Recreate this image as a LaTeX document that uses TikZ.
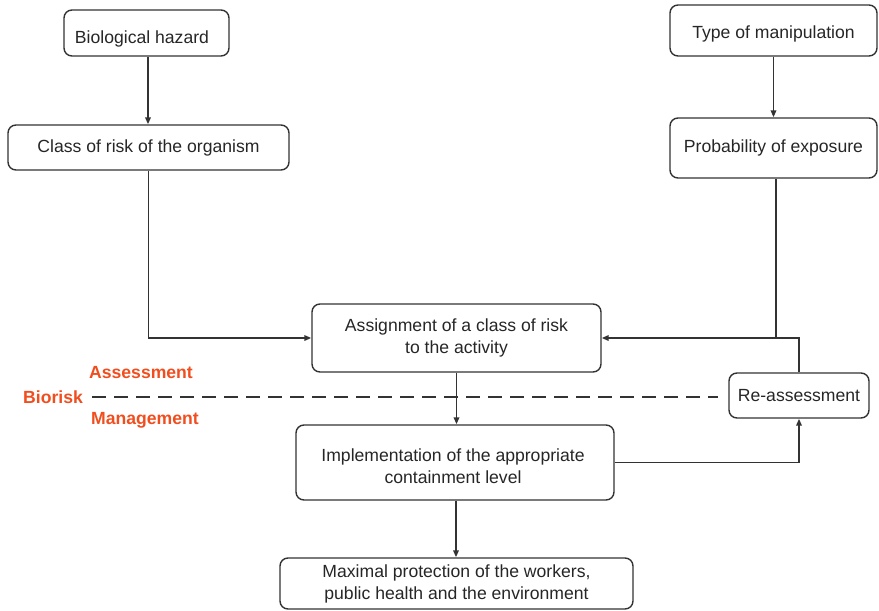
\documentclass[tikz,border=0pt]{standalone}
\usepackage{fontspec}
\setmainfont{Liberation Sans}
\usetikzlibrary{arrows.meta}
\definecolor{ln}{HTML}{333333}
\definecolor{orng}{HTML}{F04E1E}
\begin{document}
\begin{tikzpicture}[x=1pt,y=-1pt,
  box/.style={draw=ln,line width=1.4pt,rounded corners=8pt,align=center,inner sep=0pt,
    font=\fontsize{17.6}{22}\selectfont,text=black!85},
  txt/.style={align=center,inner sep=0pt,font=\fontsize{17.6}{22}\selectfont,text=black!85},
  conn/.style={draw=ln,line width=1.9pt,-{Triangle[length=7pt,width=5.5pt]}},
  lab/.style={text=orng,font=\fontsize{17.6}{20}\selectfont\bfseries}]
\useasboundingbox (0,0) rectangle (879,611);
\node[box,minimum width=165pt,minimum height=46pt] (bio) at (146.5,33) {};
\node[txt] (biot) at (142,39) {Biological hazard};
\node[box,minimum width=281pt,minimum height=45pt] (cls) at (148.5,147.5) {Class of risk of the organism};
\node[box,minimum width=207pt,minimum height=51pt] (typ) at (773.5,30.5) {};
\node[txt] (typt) at (773.5,34) {Type of manipulation};
\node[box,minimum width=207pt,minimum height=60pt] (prob) at (773.5,148) {Probability of exposure};
\node[box,minimum width=289pt,minimum height=68pt] (asg) at (456.5,338) {Assignment of a class of risk\\to the activity};
\node[box,minimum width=140pt,minimum height=45pt] (rea) at (799,395.5) {Re-assessment};
\node[box,minimum width=318pt,minimum height=75pt] (imp) at (455,462.5) {};
\node[txt] (impt) at (453,466) {Implementation of the appropriate\\containment level};
\node[box,minimum width=353pt,minimum height=51pt] (max) at (456.5,583.5) {Maximal protection of the workers,\\public health and the environment};
\node[lab] (bior) at (53,397) {Biorisk};
\node[lab] (ass) at (141,373) {Assessment};
\node[lab] (man) at (145,420) {Management};
\coordinate (dl) at (92,397);
\coordinate (dr) at (718,397);
\draw[ln,line width=1.9pt,dash pattern=on 14pt off 8pt] (dl) -- (dr);
\draw[conn] (bio.south -| 148,0) -- (cls.north -| 148,0);
\draw[conn] (typ) -- (prob);
\draw[conn] (cls.south) |- (asg.west);
\coordinate (j) at (776,338);
\draw[ln,line width=1.9pt] (prob.south -| j) -- (j);
\draw[conn] (rea.north) |- (asg.east);
\draw[conn] (asg) -- (imp.north -| asg);
\draw[conn] (imp.east) -| (rea.south);
\draw[conn] (imp.south -| 456,0) -- (max.north -| 456,0);
\end{tikzpicture}
\end{document}
